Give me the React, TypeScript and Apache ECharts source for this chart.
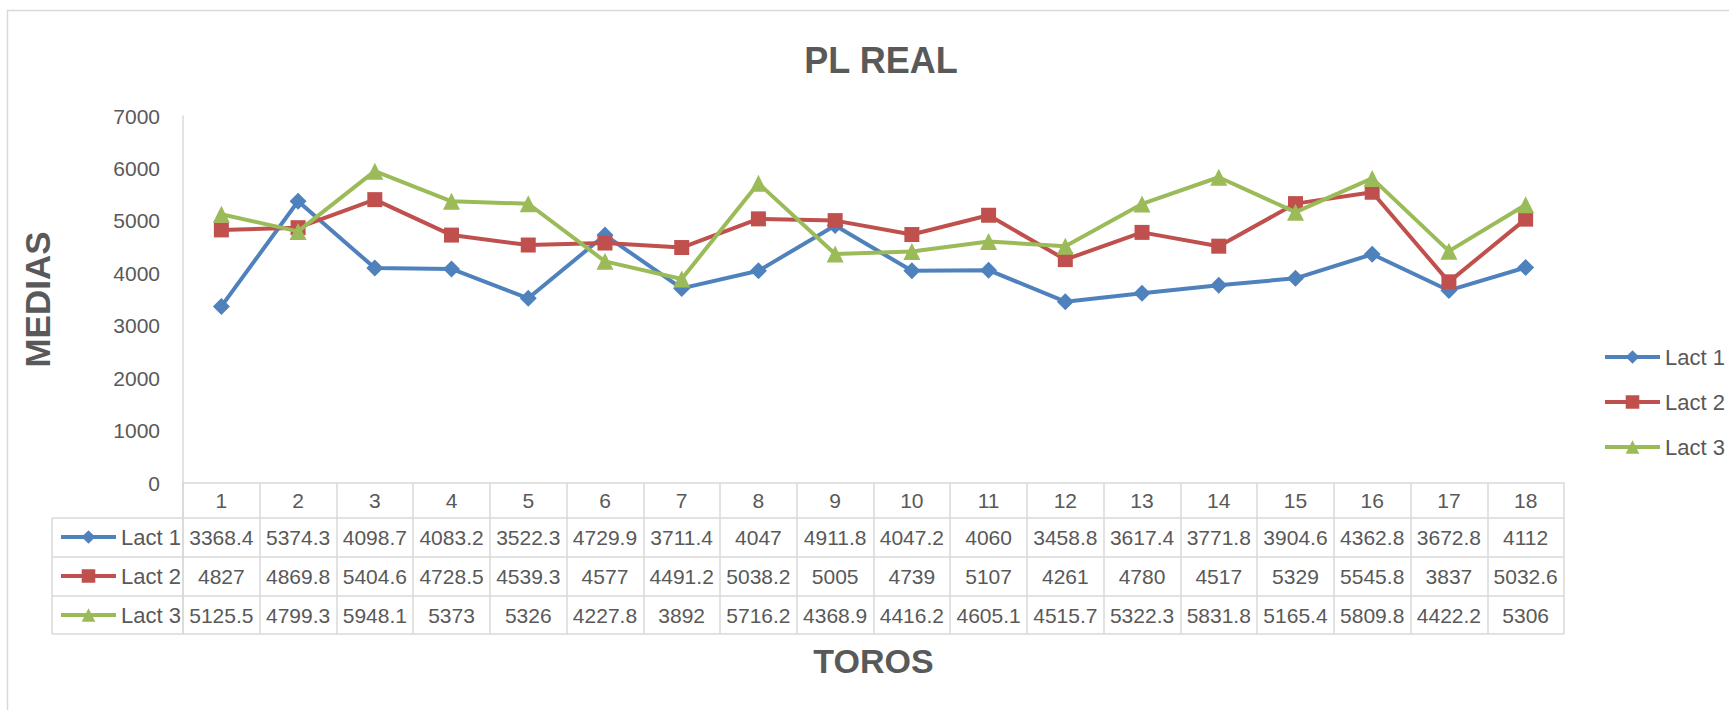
import React, { useEffect, useRef } from "react";
import * as echarts from "echarts";

// ---------- data ----------
const categories = ["1", "2", "3", "4", "5", "6", "7", "8", "9", "10", "11", "12", "13", "14", "15", "16", "17", "18"];
const seriesNames = ["Lact 1", "Lact 2", "Lact 3"];
const lact1 = [3368.4, 5374.3, 4098.7, 4083.2, 3522.3, 4729.9, 3711.4, 4047, 4911.8, 4047.2, 4060, 3458.8, 3617.4, 3771.8, 3904.6, 4362.8, 3672.8, 4112];
const lact2 = [4827, 4869.8, 5404.6, 4728.5, 4539.3, 4577, 4491.2, 5038.2, 5005, 4739, 5107, 4261, 4780, 4517, 5329, 5545.8, 3837, 5032.6];
const lact3 = [5125.5, 4799.3, 5948.1, 5373, 5326, 4227.8, 3892, 5716.2, 4368.9, 4416.2, 4605.1, 4515.7, 5322.3, 5831.8, 5165.4, 5809.8, 4422.2, 5306];
const yMin = 0;
const yMax = 7000;
const yStep = 1000;
const titleText = "PL REAL";
const yName = "MEDIAS";
const xName = "TOROS";

// ---------- style / layout ----------
const W = 1729;
const H = 710;
const GRID_LEFT = 183;
const GRID_RIGHT_X = 1564;
const GRID_TOP = 116;
const AXIS_Y = 483;
const HEADER_H = 35;
const ROW_H = 39;
const TABLE_LEFT = 52;
const COLORS = ["#4F81BD", "#C0504D", "#9BBB59"];
const SYMBOLS = ["diamond", "rect", "triangle"];
const SYMBOL_SIZES = [17, 15, 17];
const GRID_COLOR = "#D9D9D9";
const TEXT_COLOR = "#595959";
const FONT = "'Liberation Sans', Arial, sans-serif";

export default function App() {
  const ref = useRef<HTMLDivElement>(null);

  useEffect(() => {
    if (!ref.current) return;
    const chart = echarts.init(ref.current, undefined, { renderer: "svg", width: W, height: H });
    const seriesData = [lact1, lact2, lact3];
    const rowLines = [1, 2, 3].map((i) => AXIS_Y + HEADER_H + ROW_H * (i - 1));
    const tableBottom = AXIS_Y + HEADER_H + ROW_H * 3 - 1;
    rowLines.push(tableBottom);

    const graphics: any[] = [
      {
        type: "rect",
        shape: { x: 7.5, y: 10.5, width: W + 20, height: H + 20 },
        style: { fill: "none", stroke: GRID_COLOR, lineWidth: 1.5 },
        silent: true,
        z: -1,
      },
      ...rowLines.map((y) => ({
        type: "line",
        shape: { x1: TABLE_LEFT, y1: y, x2: GRID_RIGHT_X, y2: y },
        style: { stroke: GRID_COLOR, lineWidth: 1.5 },
        silent: true,
      })),
      {
        type: "line",
        shape: { x1: TABLE_LEFT, y1: AXIS_Y + HEADER_H, x2: TABLE_LEFT, y2: tableBottom },
        style: { stroke: GRID_COLOR, lineWidth: 1.5 },
        silent: true,
      },
      {
        type: "line",
        shape: { x1: GRID_LEFT, y1: AXIS_Y, x2: GRID_LEFT, y2: tableBottom },
        style: { stroke: GRID_COLOR, lineWidth: 1.5 },
        silent: true,
      },
    ];

    const cellLabel = (value: string, idx: number) =>
      `{h|${value}}\n{v|${lact1[idx]}}\n{v|${lact2[idx]}}\n{v|${lact3[idx]}}`;

    const legendCommon = {
      data: seriesNames,
      orient: "vertical",
      itemWidth: 55,
      itemHeight: 17,
      selectedMode: false,
      padding: 0,
      lineStyle: { width: 4 },
      textStyle: { fontFamily: FONT, fontSize: 22, color: TEXT_COLOR, lineHeight: 20 },
    };

    chart.setOption({
      animation: false,
      backgroundColor: "#ffffff",
      title: {
        text: titleText,
        left: 876,
        top: 37,
        textAlign: "center",
        textStyle: { fontFamily: FONT, fontSize: 36, fontWeight: "bold", color: TEXT_COLOR },
      },
      legend: [
        {
          ...legendCommon,
          left: 1603,
          top: 346,
          itemGap: 23,
        },
        {
          ...legendCommon,
          left: TABLE_LEFT + 7,
          top: AXIS_Y + HEADER_H + 8,
          itemGap: 17,
        },
      ],
      grid: {
        left: GRID_LEFT,
        top: GRID_TOP,
        width: GRID_RIGHT_X - GRID_LEFT,
        height: AXIS_Y - GRID_TOP,
        containLabel: false,
      },
      xAxis: {
        type: "category",
        data: categories,
        boundaryGap: true,
        name: xName,
        nameLocation: "middle",
        nameGap: 161,
        nameTextStyle: { fontFamily: FONT, fontSize: 34, fontWeight: "bold", color: TEXT_COLOR },
        axisLine: { show: true, lineStyle: { color: GRID_COLOR, width: 1.5 } },
        axisTick: {
          show: true,
          interval: 0,
          length: HEADER_H + ROW_H * 3 - 1,
          lineStyle: { color: GRID_COLOR, width: 1.5 },
        },
        axisLabel: {
          interval: 0,
          margin: 0,
          hideOverlap: false,
          formatter: cellLabel,
          color: TEXT_COLOR,
          fontFamily: FONT,
          rich: {
            h: { fontFamily: FONT, fontSize: 21, color: TEXT_COLOR, lineHeight: HEADER_H, height: HEADER_H },
            v: { fontFamily: FONT, fontSize: 21, color: TEXT_COLOR, lineHeight: ROW_H, height: ROW_H },
          },
        },
        splitLine: { show: false },
      },
      yAxis: {
        type: "value",
        min: yMin,
        max: yMax,
        interval: yStep,
        name: yName,
        nameLocation: "middle",
        nameRotate: 90,
        nameGap: 128,
        nameTextStyle: { fontFamily: FONT, fontSize: 35, fontWeight: "bold", color: TEXT_COLOR },
        axisLine: { show: true, lineStyle: { color: GRID_COLOR, width: 1.5 } },
        axisTick: { show: false },
        axisLabel: {
          margin: 23,
          fontFamily: FONT,
          fontSize: 21,
          color: TEXT_COLOR,
          formatter: (v: number) => String(v),
        },
        splitLine: { show: false },
      },
      graphic: graphics,
      series: seriesNames.map((name, i) => ({
        name,
        type: "line",
        data: seriesData[i],
        symbol: SYMBOLS[i],
        symbolSize: SYMBOL_SIZES[i],
        showSymbol: true,
        color: COLORS[i],
        itemStyle: { color: COLORS[i] },
        lineStyle: { color: COLORS[i], width: 4 },
        z: 2 + i,
      })),
    });

    return () => chart.dispose();
  }, []);

  return (
    <div
      ref={ref}
      style={{ position: "fixed", left: 0, top: 0, width: W, height: H, background: "#fff" }}
    />
  );
}
